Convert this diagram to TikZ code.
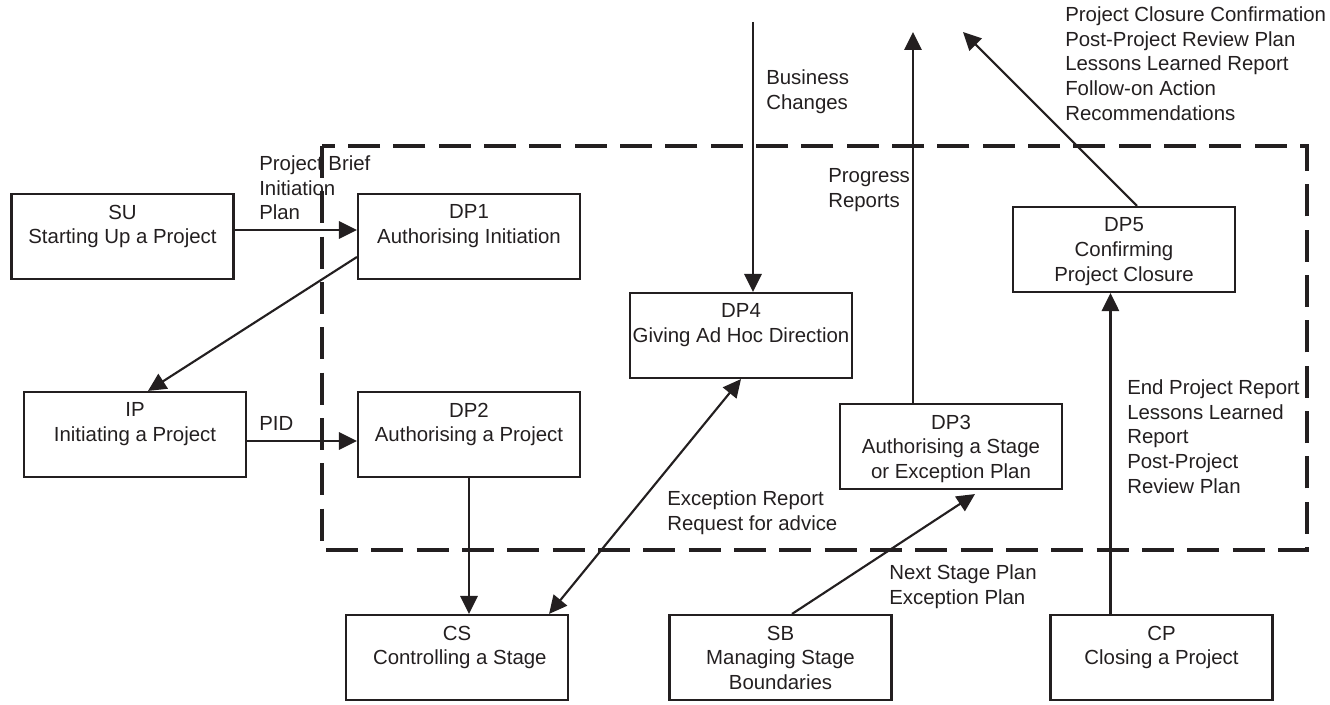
\documentclass[tikz,border=0pt]{standalone}
\usepackage{fontspec}
\setmainfont{Liberation Sans}
\usetikzlibrary{arrows.meta,calc}
\definecolor{ink}{RGB}{35,31,32}
\begin{document}
\begin{tikzpicture}[x=0.75pt,y=-0.75pt,
  txt/.style={font=\fontsize{15.3pt}{18.45pt}\selectfont, text=ink},
  proc/.style={txt, draw=ink, line width=1.6pt, minimum width=166.5pt, minimum height=63.75pt, inner sep=1pt, align=center, text depth=0pt},
  lbl/.style={txt, align=left, anchor=north west, inner sep=0pt},
  flow/.style={draw=ink, line width=1.6pt, -{Triangle[length=13.5pt,width=13pt]}},
  both/.style={draw=ink, line width=1.6pt, {Triangle[length=13.5pt,width=13pt]}-{Triangle[length=13.5pt,width=13pt]}}]
\useasboundingbox (0,0) rectangle (1330,705);
\draw[ink, line width=3pt, dash pattern=on 24pt off 10pt] (322,146) rectangle (1307,550);

\node[proc] (SU)  at (122.5,236.5) {SU\\Starting Up a Project\\\mbox{}};
\node[proc] (DP1) at (469,236.5)   {DP1\\Authorising Initiation\\\mbox{}};
\node[proc] (IP)  at (135,434.5)   {IP\\Initiating a Project\\\mbox{}};
\node[proc] (DP2) at (469,434.5)   {DP2\\Authorising a Project\\\mbox{}};
\node[proc] (DP4) at (741,335.5)   {DP4\\Giving Ad Hoc Direction\\\mbox{}};
\node[proc] (DP3) at (951,446.5)   {DP3\\Authorising a Stage\\or Exception Plan};
\node[proc] (DP5) at (1124,249.5)  {DP5\\Confirming\\Project Closure};
\node[proc] (CS)  at (457,657.5)   {CS\\\ Controlling a Stage\\\mbox{}};
\node[proc] (SB)  at (780.5,657.5) {SB\\Managing Stage\\Boundaries};
\node[proc] (CP)  at (1161.5,657.5) {CP\\Closing a Project\\\mbox{}};

\coordinate (bcTop) at (753,22);
\coordinate (prTop) at (913,32);
\coordinate (clTop) at (963,32);
\coordinate (cpOut) at ($(CP.north west)+(61,0)$);

\draw[flow] ($(SU.east)+(0,-6.5)$) -- ($(DP1.west)+(0,-6.5)$);
\draw[flow] ($(IP.east)+(0,6.5)$) -- ($(DP2.west)+(0,6.5)$);
\draw[flow] ($(DP1.west)+(0,20.5)$) -- ($(IP.north)+(13,0)$);
\draw[flow] (DP2.south) -- (DP2.south |- CS.north);
\draw[both] ($(CS.north east)+(-20,0)$) -- (DP4.south);
\draw[flow] (bcTop) -- (bcTop |- DP4.north);
\draw[flow] (prTop |- DP3.north) -- (prTop);
\draw[flow] ($(DP5.north)+(13,0)$) -- (clTop);
\draw[flow] ($(SB.north)+(11.5,0)$) -- ($(DP3.south)+(24,4)$);
\draw[flow] (cpOut) -- (cpOut |- DP5.south);

\node[lbl] (lPB)  at (259,155.7)  {Project Brief\\Initiation\\Plan};
\node[lbl] (lPID) at (259,415.7)  {PID};
\node[lbl] (lBC)  at (766,69.7)   {Business\\Changes};
\node[lbl] (lPR)  at (828,168.7)  {Progress\\Reports};
\node[lbl] (lPC)  at (1065,6.7)   {Project Closure Confirmation\\Post-Project Review Plan\\Lessons Learned Report\\Follow-on Action\\Recommendations};
\node[lbl] (lER)  at (667,490.7)  {Exception Report\\Request for advice};
\node[lbl] (lNS)  at (889,564.7)  {Next Stage Plan\\Exception Plan};
\node[lbl] (lEP)  at (1127,379.7) {End Project Report\\Lessons Learned\\Report\\Post-Project\\Review Plan};
\end{tikzpicture}
\end{document}
